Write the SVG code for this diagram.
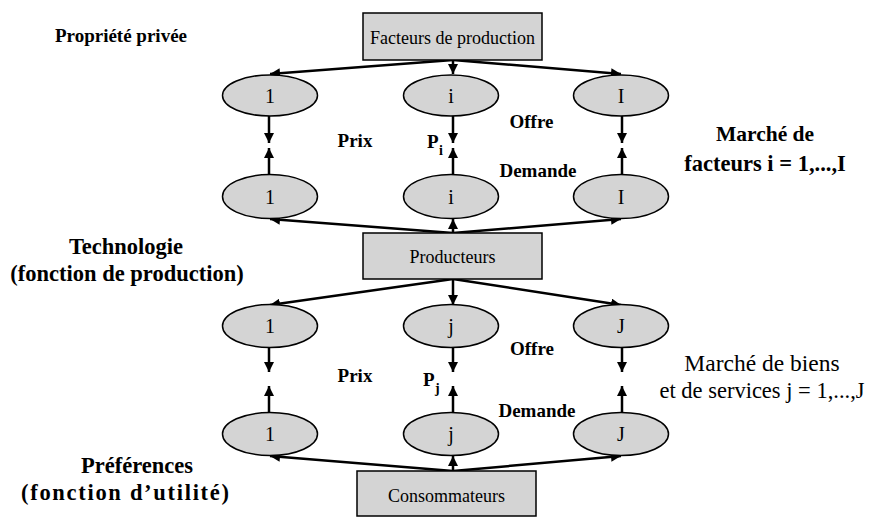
<svg xmlns="http://www.w3.org/2000/svg" width="869" height="517" viewBox="0 0 869 517">
<style>
.box{fill:#d4d4d4;stroke:#000;stroke-width:1.5}
.ell{fill:#d4d4d4;stroke:#000;stroke-width:1.5}
.nt{font-family:"Liberation Serif","Times New Roman",serif;font-size:18px;fill:#000;text-anchor:middle}
.et{font-family:"Liberation Serif","Times New Roman",serif;font-size:20px;fill:#000;text-anchor:middle}
.lb{font-family:"Liberation Serif","Times New Roman",serif;font-size:19px;font-weight:bold;fill:#000}
.big{font-family:"Liberation Serif","Times New Roman",serif;font-size:22.5px;font-weight:bold;fill:#000;text-anchor:middle}
.reg{font-family:"Liberation Serif","Times New Roman",serif;font-size:22.5px;fill:#000;text-anchor:middle}
.c{fill:none;stroke:#000;stroke-width:2.5;marker-end:url(#ah)}
</style>
<defs>
<marker id="ah" markerUnits="userSpaceOnUse" markerWidth="11" markerHeight="10" refX="10" refY="5" orient="auto">
<path d="M0,0 L10,5 L0,10 z" fill="#000"/>
</marker>
</defs>
<g id="connectors">
<line class="c" x1="453" y1="60" x2="270" y2="74"/>
<line class="c" x1="453" y1="60" x2="453" y2="74"/>
<line class="c" x1="453" y1="60" x2="621" y2="74"/>
<line class="c" x1="269" y1="116" x2="269" y2="143"/>
<line class="c" x1="453" y1="116" x2="453" y2="143"/>
<line class="c" x1="622" y1="116" x2="622" y2="143"/>
<line class="c" x1="269" y1="175" x2="269" y2="148"/>
<line class="c" x1="453" y1="175" x2="453" y2="148"/>
<line class="c" x1="622" y1="175" x2="622" y2="148"/>
<line class="c" x1="453" y1="233" x2="270" y2="219"/>
<line class="c" x1="453" y1="233" x2="453" y2="219"/>
<line class="c" x1="453" y1="233" x2="621" y2="219"/>
<line class="c" x1="453" y1="279" x2="270" y2="305"/>
<line class="c" x1="453" y1="279" x2="453" y2="305"/>
<line class="c" x1="453" y1="279" x2="621" y2="305"/>
<line class="c" x1="269" y1="347" x2="269" y2="372"/>
<line class="c" x1="453" y1="347" x2="453" y2="372"/>
<line class="c" x1="622" y1="347" x2="622" y2="372"/>
<line class="c" x1="269" y1="413" x2="269" y2="386"/>
<line class="c" x1="453" y1="413" x2="453" y2="386"/>
<line class="c" x1="622" y1="413" x2="622" y2="386"/>
<line class="c" x1="453" y1="471" x2="270" y2="456"/>
<line class="c" x1="453" y1="471" x2="453" y2="456"/>
<line class="c" x1="453" y1="471" x2="621" y2="456"/>
</g>
<g id="facteurs"><rect class="box" x="363" y="13" width="179" height="47"/><text class="nt" x="452.5" y="44">Facteurs de production</text></g>
<g id="producteurs"><rect class="box" x="363" y="233" width="179" height="46"/><text class="nt" x="452.5" y="263">Producteurs</text></g>
<g id="consommateurs"><rect class="box" x="357" y="471" width="179" height="45"/><text class="nt" x="446.5" y="502">Consommateurs</text></g>
<g id="f1o"><ellipse class="ell" cx="270" cy="95.5" rx="47.5" ry="20.5"/><text class="et" x="270" y="103">1</text></g>
<g id="fio"><ellipse class="ell" cx="451" cy="95.5" rx="47.5" ry="20.5"/><text class="et" x="451" y="103">i</text></g>
<g id="fIo"><ellipse class="ell" cx="621" cy="95.5" rx="47.5" ry="20.5"/><text class="et" x="621" y="103">I</text></g>
<g id="f1d"><ellipse class="ell" cx="270" cy="196.5" rx="47.5" ry="22"/><text class="et" x="270" y="204">1</text></g>
<g id="fid"><ellipse class="ell" cx="451" cy="196.5" rx="47.5" ry="22"/><text class="et" x="451" y="204">i</text></g>
<g id="fId"><ellipse class="ell" cx="621" cy="196.5" rx="47.5" ry="22"/><text class="et" x="621" y="204">I</text></g>
<g id="b1o"><ellipse class="ell" cx="270" cy="326" rx="47.5" ry="21.5"/><text class="et" x="270" y="333">1</text></g>
<g id="bjo"><ellipse class="ell" cx="451" cy="326" rx="47.5" ry="21.5"/><text class="et" x="451" y="333">j</text></g>
<g id="bJo"><ellipse class="ell" cx="621" cy="326" rx="47.5" ry="21.5"/><text class="et" x="621" y="333">J</text></g>
<g id="b1d"><ellipse class="ell" cx="270" cy="434" rx="47.5" ry="21.5"/><text class="et" x="270" y="441">1</text></g>
<g id="bjd"><ellipse class="ell" cx="451" cy="434" rx="47.5" ry="21.5"/><text class="et" x="451" y="441">j</text></g>
<g id="bJd"><ellipse class="ell" cx="621" cy="434" rx="47.5" ry="21.5"/><text class="et" x="621" y="441">J</text></g>
<g id="labels">
<text class="lb" x="121" y="42" text-anchor="middle">Propriété privée</text>
<text class="big" x="126" y="254">Technologie</text>
<text class="big" x="127" y="281">(fonction de production)</text>
<text class="big" x="137" y="473">Préférences</text>
<text class="big" x="125" y="500" textLength="208" lengthAdjust="spacing">(fonction d’utilité)</text>
<text class="big" x="765" y="141" style="font-size:21.5px">Marché de</text>
<text class="big" x="765" y="171">facteurs i = 1,...,I</text>
<text class="reg" x="762" y="371" style="font-size:23.5px">Marché de biens</text>
<text class="reg" x="762" y="398">et de services j = 1,...,J</text>
<text class="lb" x="531.5" y="128" text-anchor="middle">Offre</text>
<text class="lb" x="355" y="147" text-anchor="middle">Prix</text>
<text class="lb" x="538" y="177" text-anchor="middle">Demande</text>
<text class="lb" x="427" y="148">P</text><text class="lb" x="439" y="155" style="font-size:14px">i</text>
<text class="lb" x="532" y="355" text-anchor="middle">Offre</text>
<text class="lb" x="355" y="382" text-anchor="middle">Prix</text>
<text class="lb" x="537" y="417" text-anchor="middle">Demande</text>
<text class="lb" x="423" y="386">P</text><text class="lb" x="435" y="393" style="font-size:14px">j</text>
</g>
</svg>
